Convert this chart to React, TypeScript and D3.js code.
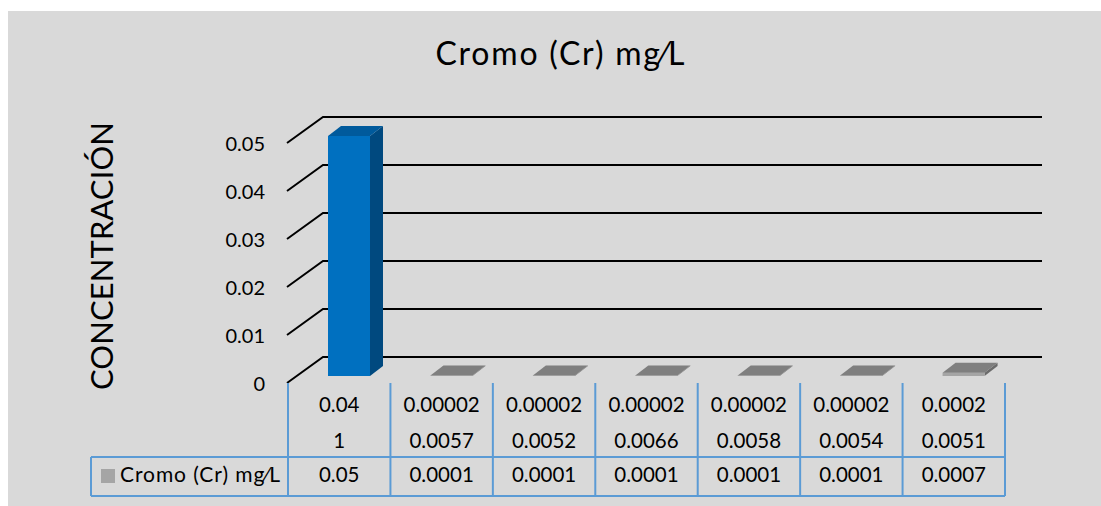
import React from "react";
import * as d3 from "d3";

// Chart data
const title = "Cromo (Cr) mg⁄L";
const seriesName = "Cromo (Cr) mg⁄L";
const yAxisTitle = "CONCENTRACIÓN";
const categoryLine1 = ["0.04", "0.00002", "0.00002", "0.00002", "0.00002", "0.00002", "0.0002"];
const categoryLine2 = ["1", "0.0057", "0.0052", "0.0066", "0.0058", "0.0054", "0.0051"];
const values = [0.05, 0.0001, 0.0001, 0.0001, 0.0001, 0.0001, 0.0007];
const valueLabels = ["0.05", "0.0001", "0.0001", "0.0001", "0.0001", "0.0001", "0.0007"];
const yTicks = [0, 0.01, 0.02, 0.03, 0.04, 0.05];
const yTickLabels = ["0", "0.01", "0.02", "0.03", "0.04", "0.05"];

const W = 1101;
const H = 506;
const FONT = "Lato, 'Open Sans', sans-serif";

// 3D wall geometry
const DEPTH_DX = 36;
const DEPTH_DY = -26;
const BAR_DX = 13;
const BAR_DY = -10;
const BAR_SHIFT_X = 10;
const BAR_SHIFT_Y = -7;

const BLUE = { front: "#0070c0", top: "#005a9c", side: "#00497f" };
const GRAY = { front: "#a5a5a5", top: "#7f7f7f", side: "#6b6b6b" };
const TABLE_LINE = "#5b9bd5";

export default function App() {
  const idx = values.map((_, i) => String(i));
  const x = d3.scaleBand<string>().domain(idx).range([288, 1005]);
  const y = d3.scaleLinear().domain([0, 0.05]).range([383, 143]);
  const bw = x.bandwidth();
  const barW = 42;
  const barOffset = 40 - BAR_SHIFT_X;

  const tableTop = 383;
  const rowSplit = 457;
  const tableBottom = 496;

  return (
    <div style={{ position: "absolute", left: 0, top: 0 }}>
      <svg width={W} height={H} style={{ display: "block" }}>
        <rect x={8} y={11} width={W - 8} height={H - 11} fill="#d9d9d9" />

        <text
          x={560}
          y={65}
          textAnchor="middle"
          fontFamily={FONT}
          fontSize={32}
          fill="#000"
          textLength={249}
          lengthAdjust="spacing"
        >
          {title}
        </text>

        <text
          transform={`translate(113,256) rotate(-90)`}
          textAnchor="middle"
          fontFamily={FONT}
          fontSize={31}
          fill="#000"
          textLength={268}
          lengthAdjust="spacing"
        >
          {yAxisTitle}
        </text>

        {/* gridlines: diagonal on side wall + horizontal on back wall */}
        {yTicks.map((t, i) => {
          const fy = y(t);
          const x0 = 287;
          return (
            <g key={i}>
              <path
                d={`M${x0},${fy}L${x0 + DEPTH_DX},${fy + DEPTH_DY}L${1042},${fy + DEPTH_DY}`}
                fill="none"
                stroke="#000"
                strokeWidth={2}
              />
              <text
                x={265}
                y={fy + 3}
                textAnchor="end"
                dominantBaseline="middle"
                fontFamily={FONT}
                fontSize={20}
                fill="#000"
              >
                {yTickLabels[i]}
              </text>
            </g>
          );
        })}

        {/* 3D columns */}
        {values.map((v, i) => {
          const c = i === 0 ? BLUE : GRAY;
          const left = (x(String(i)) as number) + barOffset + BAR_SHIFT_X;
          const right = left + barW;
          const bottom = y(0) + BAR_SHIFT_Y;
          const top = y(v) + BAR_SHIFT_Y;
          const front = `M${left},${top}L${right},${top}L${right},${bottom}L${left},${bottom}Z`;
          const topFace = `M${left},${top}L${left + BAR_DX},${top + BAR_DY}L${right + BAR_DX},${top + BAR_DY}L${right},${top}Z`;
          const side = `M${right},${top}L${right + BAR_DX},${top + BAR_DY}L${right + BAR_DX},${bottom + BAR_DY}L${right},${bottom}Z`;
          return (
            <g key={i}>
              <path d={side} fill={c.side} />
              <path d={front} fill={c.front} />
              <path d={topFace} fill={c.top} />
            </g>
          );
        })}

        {/* data table */}
        <g stroke={TABLE_LINE} strokeWidth={2} fill="none">
          {d3.range(values.length + 1).map((k) => {
            const xx = k < values.length ? (x(String(k)) as number) : 288 + bw * values.length;
            return <line key={k} x1={xx} y1={tableTop} x2={xx} y2={tableBottom} />;
          })}
          <line x1={91} y1={rowSplit} x2={1005} y2={rowSplit} />
          <line x1={91} y1={tableBottom} x2={1005} y2={tableBottom} />
          <line x1={91} y1={rowSplit} x2={91} y2={tableBottom} />
        </g>

        {values.map((_, i) => {
          const cx = (x(String(i)) as number) + bw / 2;
          return (
            <g key={i} fontFamily={FONT} fontSize={20.5} fill="#000" textAnchor="middle">
              <text x={cx} y={407} dominantBaseline="middle">
                {categoryLine1[i]}
              </text>
              <text x={cx} y={443} dominantBaseline="middle">
                {categoryLine2[i]}
              </text>
              <text x={cx} y={477} dominantBaseline="middle">
                {valueLabels[i]}
              </text>
            </g>
          );
        })}

        <rect x={101} y={469} width={14} height={14} fill={GRAY.front} />
        <text
          x={120}
          y={477}
          dominantBaseline="middle"
          fontFamily={FONT}
          fontSize={21}
          fill="#000"
          textLength={160}
          lengthAdjust="spacing"
        >
          {seriesName}
        </text>
      </svg>
    </div>
  );
}
